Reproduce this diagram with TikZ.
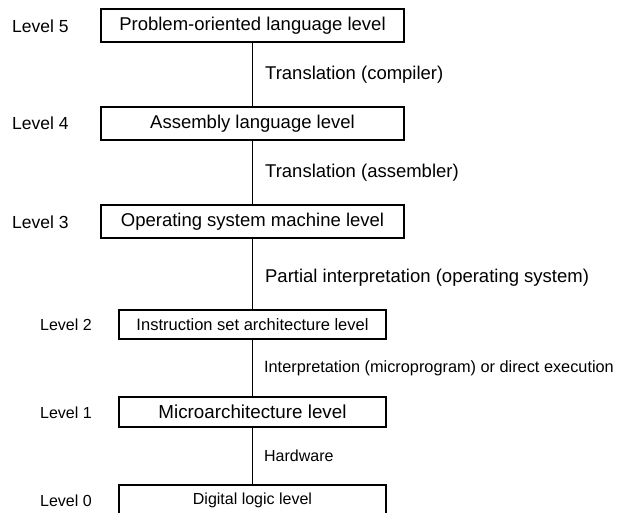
\documentclass[tikz,border=0pt]{standalone}
\usepackage{fontspec}
\setmainfont{Liberation Sans}
\begin{document}
\begin{tikzpicture}[x=1pt,y=-1pt,
  bigbox/.style={draw,line width=1.3pt,inner sep=0pt,minimum width=303pt,minimum height=33pt,font=\fontsize{18.5}{21}\selectfont},
  smallbox/.style={draw,line width=1.3pt,inner sep=0pt,minimum width=267pt,minimum height=30pt,font=\fontsize{16}{19}\selectfont},
  levlab/.style={anchor=west,inner sep=0pt,font=\fontsize{17.5}{20}\selectfont},
  biglab/.style={anchor=west,inner sep=0pt,font=\fontsize{18.5}{21}\selectfont},
  smalllab/.style={anchor=west,inner sep=0pt,font=\fontsize{16}{19}\selectfont},
  conn/.style={line width=1.3pt}]
\useasboundingbox (0,0) rectangle (621,513);
\clip (0,0) rectangle (621,513);
\fill[white] (0,0) rectangle (621,513);
\node[bigbox] (l5) at (252.5,25.5) {Problem-oriented language level};
\node[bigbox] (l4) at (252.5,123.5) {Assembly language level};
\node[bigbox] (l3) at (252.5,221.5) {Operating system machine level};
\node[smallbox,minimum height=29pt,font=\fontsize{16.5}{19}\selectfont] (l2) at (252.5,324.5) {Instruction set architecture level};
\node[smallbox,font=\fontsize{18.8}{21}\selectfont] (l1) at (252.5,412) {Microarchitecture level};
\node[smallbox] (l0) at (252.5,500) {Digital logic level};
\node[levlab] (n5) at (12,26) {Level 5};
\node[levlab] (n4) at (12,123.5) {Level 4};
\node[levlab] (n3) at (12,222.5) {Level 3};
\node[smalllab] (n2) at (40,325) {Level 2};
\node[smalllab] (n1) at (40,413) {Level 1};
\node[smalllab] (n0) at (40,501) {Level 0};
\draw[conn] (l5) -- (l4) node[midway,right=12pt,biglab] (t54) {Translation (compiler)};
\draw[conn] (l4) -- (l3) node[midway,right=12pt,biglab] (t43) {Translation (assembler)};
\draw[conn] (l3) -- (l2) node[pos=0.55,right=12pt,biglab] (t32) {Partial interpretation (operating system)};
\draw[conn] (l2) -- (l1) node[midway,right=11pt,smalllab,font=\fontsize{16.3}{19}\selectfont] (t21) {Interpretation (microprogram) or direct execution};
\draw[conn] (l1) -- (l0) node[midway,right=11pt,smalllab] (t10) {Hardware};
\end{tikzpicture}
\end{document}
